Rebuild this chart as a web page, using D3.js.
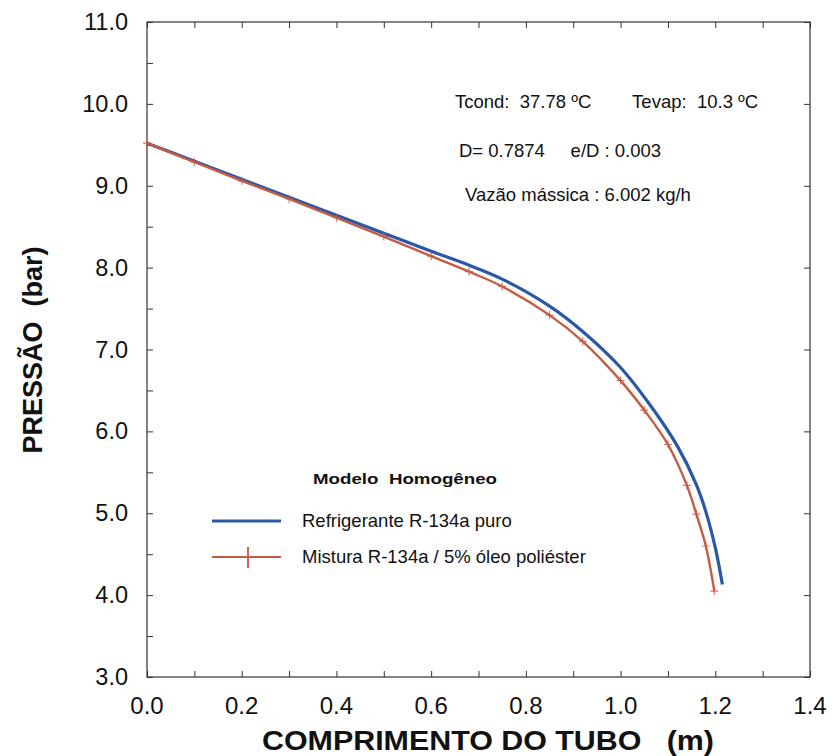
<!DOCTYPE html>
<html>
<head>
<meta charset="utf-8">
<script src="https://cdn.jsdelivr.net/npm/d3@7"></script>
<style>
  body { margin: 0; background: #fff; }
  text { font-family: "Liberation Sans", Arial, sans-serif; fill: #111; }
</style>
</head>
<body>
<div id="chart"></div>
<script>
// tube length (m) and pressure (bar)
const pureX = [0, 0.1, 0.2, 0.3, 0.4, 0.5, 0.6, 0.68, 0.75, 0.85, 0.92, 1.0, 1.06, 1.12, 1.16, 1.18, 1.2, 1.215];
const pureP = [9.52, 9.30, 9.08, 8.86, 8.64, 8.42, 8.20, 8.03, 7.86, 7.53, 7.22, 6.78, 6.34, 5.82, 5.35, 5.02, 4.58, 4.13];

const mixX = [0, 0.1, 0.2, 0.3, 0.4, 0.5, 0.6, 0.68, 0.75, 0.85, 0.92, 1.0, 1.05, 1.1, 1.14, 1.16, 1.18, 1.198];
const mixP = [9.52, 9.29, 9.06, 8.84, 8.61, 8.38, 8.14, 7.95, 7.77, 7.42, 7.10, 6.62, 6.26, 5.84, 5.34, 4.99, 4.60, 4.05];

const xTicks = [0.0, 0.2, 0.4, 0.6, 0.8, 1.0, 1.2, 1.4];
const yTicks = [3, 4, 5, 6, 7, 8, 9, 10, 11];

const seriesNames = ["Refrigerante R-134a puro", "Mistura R-134a / 5% óleo poliéster"];
const notes = ["Tcond:  37.78 ºC        Tevap:  10.3 ºC", "D= 0.7874     e/D : 0.003", "Vazão mássica : 6.002 kg/h"];

const width = 834, height = 756;
const margin = {top: 22, right: 24, bottom: 79, left: 147};

const svg = d3.select("#chart").append("svg")
    .attr("width", width)
    .attr("height", height);

const x = d3.scaleLinear().domain([0, 1.4]).range([margin.left, width - margin.right]);
const y = d3.scaleLinear().domain([3, 11]).range([height - margin.bottom, margin.top]);

const axisCol = "#333";

// frame
svg.append("rect")
    .attr("x", x(0)).attr("y", y(11))
    .attr("width", x(1.4) - x(0)).attr("height", y(3) - y(11))
    .attr("fill", "none").attr("stroke", axisCol).attr("stroke-width", 1.2);

// inward ticks
const minorX = d3.range(0, 15).map(i => i / 10);
const minorY = d3.range(3, 11.01, 0.5);
svg.append("g").attr("transform", `translate(0,${y(3)})`)
    .call(d3.axisTop(x).tickValues(minorX).tickSize(6).tickFormat(""))
    .call(g => g.select(".domain").remove())
    .call(g => g.selectAll("line").attr("stroke", axisCol));
svg.append("g").attr("transform", `translate(0,${y(11)})`)
    .call(d3.axisBottom(x).tickValues(minorX).tickSize(6).tickFormat(""))
    .call(g => g.select(".domain").remove())
    .call(g => g.selectAll("line").attr("stroke", axisCol));
svg.append("g").attr("transform", `translate(${x(0)},0)`)
    .call(d3.axisRight(y).tickValues(minorY).tickSize(6).tickFormat(""))
    .call(g => g.select(".domain").remove())
    .call(g => g.selectAll("line").attr("stroke", axisCol));
svg.append("g").attr("transform", `translate(${x(1.4)},0)`)
    .call(d3.axisLeft(y).tickValues(yTicks).tickSize(6).tickFormat(""))
    .call(g => g.select(".domain").remove())
    .call(g => g.selectAll("line").attr("stroke", axisCol));

// tick labels
svg.append("g").selectAll("text").data(xTicks).join("text")
    .attr("x", d => x(d)).attr("y", y(3) + 37)
    .attr("text-anchor", "middle")
    .style("font-size", "24px")
    .text(d => d.toFixed(1));
svg.append("g").selectAll("text").data(yTicks).join("text")
    .attr("x", x(0) - 19).attr("y", d => y(d) + 8)
    .attr("text-anchor", "end")
    .style("font-size", "23.5px")
    .text(d => d.toFixed(1));

// axis titles
svg.append("text")
    .attr("x", 488).attr("y", 750)
    .attr("text-anchor", "middle")
    .style("font-size", "27px").style("font-weight", "bold")
    .style("white-space", "pre")
    .attr("textLength", 452).attr("lengthAdjust", "spacingAndGlyphs")
    .text("COMPRIMENTO DO TUBO   (m)");
svg.append("text")
    .attr("transform", `translate(42,${350}) rotate(-90)`)
    .attr("text-anchor", "middle")
    .style("font-size", "27px").style("font-weight", "bold")
    .style("white-space", "pre")
    .text("PRESSÃO  (bar)");

// curves
const line = d3.line().x(d => x(d[0])).y(d => y(d[1])).curve(d3.curveCatmullRom);
const pure = pureX.map((v, i) => [v, pureP[i]]);
const mix = mixX.map((v, i) => [v, mixP[i]]);

const blue = "#2b58a6", red = "#c65a43";

svg.append("path").datum(pure)
    .attr("fill", "none").attr("stroke", blue).attr("stroke-width", 3.2)
    .attr("d", line);
svg.append("path").datum(mix)
    .attr("fill", "none").attr("stroke", red).attr("stroke-width", 2.4)
    .attr("d", line);
svg.append("g").selectAll("path").data(mix).join("path")
    .attr("transform", d => `translate(${x(d[0])},${y(d[1])})`)
    .attr("d", "M-4,0H4M0,-4V4")
    .attr("stroke", red).attr("stroke-width", 1.2).attr("opacity", 0.8);

// annotations
const noteX = [455, 459, 465], noteY = [108, 157, 201];
svg.append("g").selectAll("text").data(notes).join("text")
    .attr("x", (d, i) => noteX[i]).attr("y", (d, i) => noteY[i])
    .style("font-size", "18.5px")
    .style("white-space", "pre")
    .text(d => d);

// legend
svg.append("text")
    .attr("x", 313).attr("y", 484)
    .style("font-size", "15px").style("font-weight", "bold")
    .style("white-space", "pre")
    .attr("textLength", 184).attr("lengthAdjust", "spacingAndGlyphs")
    .text("Modelo  Homogêneo");
const legY = [521, 557];
const legCol = [blue, red];
const leg = svg.append("g").selectAll("g").data(seriesNames).join("g");
leg.append("line")
    .attr("x1", 212).attr("x2", 281)
    .attr("y1", (d, i) => legY[i]).attr("y2", (d, i) => legY[i])
    .attr("stroke", (d, i) => legCol[i]).attr("stroke-width", (d, i) => i ? 2 : 3.2);
leg.append("text")
    .attr("x", 302).attr("y", (d, i) => legY[i] + 6)
    .style("font-size", "18.5px")
    .text(d => d);
svg.append("line")
    .attr("x1", 248).attr("x2", 248)
    .attr("y1", legY[1] - 10).attr("y2", legY[1] + 11)
    .attr("stroke", red).attr("stroke-width", 1.8);
</script>
</body>
</html>
